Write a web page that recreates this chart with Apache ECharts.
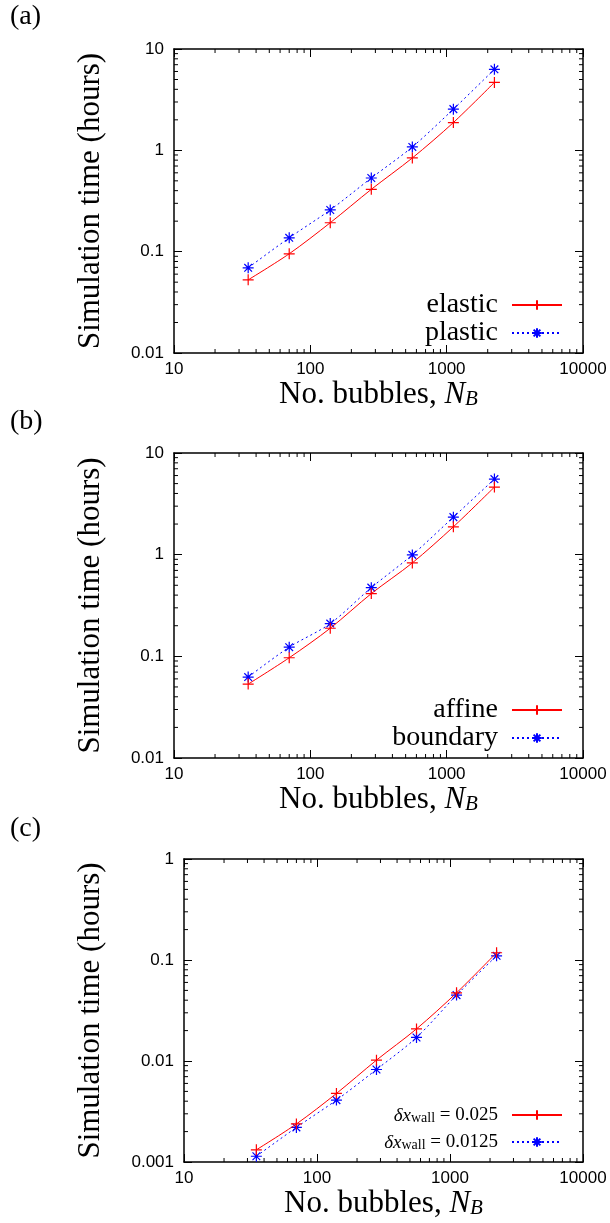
<!DOCTYPE html>
<html>
<head>
<meta charset="utf-8">
<script src="https://cdn.jsdelivr.net/npm/echarts@6/dist/echarts.min.js"></script>
<style>
html,body{margin:0;padding:0;background:#fff;}
#chart{width:610px;height:1223px;}
</style>
</head>
<body>
<div id="chart"></div>
<script>
// ---- data ----
const xN = [35, 70, 140, 280, 560, 1120, 2240];
const elastic = [0.0527, 0.0953, 0.193, 0.412, 0.841, 1.88, 4.68];
const plastic = [0.0693, 0.137, 0.258, 0.533, 1.08, 2.55, 6.30];
const affine = [0.0533, 0.0968, 0.189, 0.414, 0.830, 1.88, 4.62];
const boundary = [0.0625, 0.123, 0.210, 0.474, 0.995, 2.34, 5.54];
const wall025 = [0.00132, 0.00238, 0.00477, 0.0102, 0.0208, 0.0473, 0.118];
const wall0125 = [0.00114, 0.00220, 0.00410, 0.00824, 0.0171, 0.0449, 0.110];

const xTicks = [10, 100, 1000, 10000];
const xTickLabels = ['10', '100', '1000', '10000'];
const yTicksAB = [0.01, 0.1, 1, 10];
const yTickLabelsAB = ['0.01', '0.1', '1', '10'];
const yTicksC = [0.001, 0.01, 0.1, 1];
const yTickLabelsC = ['0.001', '0.01', '0.1', '1'];
const minorMult = [2, 3, 4, 5, 6, 7, 8, 9];
const xDecades = [10, 100, 1000];
const yDecadesAB = [0.01, 0.1, 1];
const yDecadesC = [0.001, 0.01, 0.1];

const panelLabels = ['(a)', '(b)', '(c)'];

// ---- helpers ----
function lookup(ticks, labels) {
  return function (v) {
    for (let i = 0; i < ticks.length; i++) {
      if (Math.abs(Math.log10(v) - Math.log10(ticks[i])) < 1e-6) return labels[i];
    }
    return '';
  };
}
function minors(decades) {
  const out = [];
  decades.forEach(d => minorMult.forEach(m => out.push(+(d * m).toPrecision(6))));
  return out;
}

const SERIF = 'Liberation Serif';
const SANS = 'Liberation Sans';
const plusSym = 'path://M0,5H10M5,0V10';
const starSym = 'path://M0,5H10M5,0V10M1.5,1.5L8.5,8.5M8.5,1.5L1.5,8.5';

const grids = [
  {left: 174, top: 49, width: 409, height: 304},
  {left: 174, top: 453, width: 409, height: 305},
  {left: 184, top: 859, width: 399, height: 303}
];
const yRanges = [[0.01, 10], [0.01, 10], [0.001, 1]];
const yTickSets = [[yTicksAB, yTickLabelsAB], [yTicksAB, yTickLabelsAB], [yTicksC, yTickLabelsC]];
const yDecs = [yDecadesAB, yDecadesAB, yDecadesC];
const seriesData = [[elastic, plastic], [affine, boundary], [wall025, wall0125]];
const seriesNames = [['elastic', 'plastic'], ['affine', 'boundary'], ['w025', 'w0125']];
const legendTops = [291, 696, 1106];
const titleTops = [3, 408, 815];

const xAxes = [], yAxes = [], series = [], legends = [], titles = [];
const tickStyle = {inside: true, length: 8, lineStyle: {color: '#000', width: 1}};
const lineStyleAxis = {lineStyle: {color: '#000', width: 1.5}};

for (let p = 0; p < 3; p++) {
  const xa = {
    type: 'log', logBase: 10, min: 10, max: 10000, gridIndex: p, position: 'bottom',
    axisLine: lineStyleAxis, axisTick: tickStyle, splitLine: {show: false},
    axisLabel: {formatter: lookup(xTicks, xTickLabels), fontFamily: SANS, fontSize: 17, color: '#000', margin: 8},
    name: '{t|No. bubbles, }{i|N}{s|B}', nameLocation: 'middle', nameGap: 22,
    nameTextStyle: {
      rich: {
        t: {fontFamily: SERIF, fontSize: 31, color: '#000', verticalAlign: 'bottom', lineHeight: 34},
        i: {fontFamily: SERIF, fontSize: 31, fontStyle: 'italic', color: '#000', verticalAlign: 'bottom', lineHeight: 34},
        s: {fontFamily: SERIF, fontSize: 21, fontStyle: 'italic', color: '#000', verticalAlign: 'bottom', lineHeight: 26}
      }
    }
  };
  const xb = {
    type: 'log', logBase: 10, min: 10, max: 10000, gridIndex: p, position: 'top',
    axisLine: lineStyleAxis, axisTick: tickStyle, splitLine: {show: false}, axisLabel: {show: false}
  };
  xAxes.push(xa, xb);
  const [ymin, ymax] = yRanges[p];
  const ya = {
    type: 'log', logBase: 10, min: ymin, max: ymax, gridIndex: p, position: 'left',
    axisLine: lineStyleAxis, axisTick: tickStyle, splitLine: {show: false},
    axisLabel: {formatter: lookup(yTickSets[p][0], yTickSets[p][1]), fontFamily: SANS, fontSize: 17, color: '#000', margin: 10},
    name: 'Simulation time (hours)', nameLocation: 'middle', nameGap: p === 2 ? 78 : 68, nameRotate: 90,
    nameTextStyle: {fontFamily: SERIF, fontSize: 31, color: '#000'}
  };
  const yb = {
    type: 'log', logBase: 10, min: ymin, max: ymax, gridIndex: p, position: 'right',
    axisLine: lineStyleAxis, axisTick: tickStyle, splitLine: {show: false}, axisLabel: {show: false}
  };
  yAxes.push(ya, yb);

  const names = seriesNames[p];
  const data = seriesData[p];
  series.push({
    name: names[0], type: 'line', xAxisIndex: 2 * p, yAxisIndex: 2 * p,
    data: xN.map((x, i) => [x, data[0][i]]),
    smooth: 0.3, symbol: plusSym, symbolSize: 11,
    lineStyle: {color: '#ff0000', width: 1},
    itemStyle: {color: '#ff0000', borderColor: '#ff0000', borderWidth: 1.2},
    z: 4
  });
  series.push({
    name: names[1], type: 'line', xAxisIndex: 2 * p, yAxisIndex: 2 * p,
    data: xN.map((x, i) => [x, data[1][i]]),
    smooth: 0.3, symbol: starSym, symbolSize: 11,
    lineStyle: {color: '#0000ff', width: 1, type: [2, 3]},
    itemStyle: {color: '#0000ff', borderColor: '#0000ff', borderWidth: 1.2},
    z: 3
  });
  // minor ticks (x)
  series.push({
    type: 'custom', xAxisIndex: 2 * p, yAxisIndex: 2 * p, silent: true, z: 6,
    data: minors(xDecades).map(v => [v, ymin * 10]),
    renderItem: function (params, api) {
      const cs = params.coordSys;
      const x = api.coord([api.value(0), api.value(1)])[0];
      const st = {stroke: '#000', lineWidth: 1};
      return {type: 'group', children: [
        {type: 'line', shape: {x1: x, y1: cs.y + cs.height, x2: x, y2: cs.y + cs.height - 4}, style: st},
        {type: 'line', shape: {x1: x, y1: cs.y, x2: x, y2: cs.y + 4}, style: st}
      ]};
    }
  });
  // minor ticks (y)
  series.push({
    type: 'custom', xAxisIndex: 2 * p, yAxisIndex: 2 * p, silent: true, z: 6,
    data: minors(yDecs[p]).map(v => [100, v]),
    renderItem: function (params, api) {
      const cs = params.coordSys;
      const y = api.coord([api.value(0), api.value(1)])[1];
      const st = {stroke: '#000', lineWidth: 1};
      return {type: 'group', children: [
        {type: 'line', shape: {x1: cs.x, y1: y, x2: cs.x + 4, y2: y}, style: st},
        {type: 'line', shape: {x1: cs.x + cs.width, y1: y, x2: cs.x + cs.width - 4, y2: y}, style: st}
      ]};
    }
  });

  const isC = p === 2;
  legends.push({
    data: names, orient: 'vertical', align: 'right',
    right: 47, top: legendTops[p], itemWidth: 50, itemHeight: 12, itemGap: isC ? 8 : 0,
    padding: 0, selectedMode: false,
    formatter: function (name) {
      if (name === 'w025') return '{i|δx}{s|wall}{n| = 0.025}';
      if (name === 'w0125') return '{i|δx}{s|wall}{n| = 0.0125}';
      return name;
    },
    textStyle: isC ? {
      color: '#000', padding: [0, 9, 0, 0],
      rich: {
        i: {fontFamily: SERIF, fontSize: 19, fontStyle: 'italic', color: '#000', verticalAlign: 'bottom', lineHeight: 20},
        s: {fontFamily: SERIF, fontSize: 14, color: '#000', verticalAlign: 'bottom', lineHeight: 16},
        n: {fontFamily: SERIF, fontSize: 19, color: '#000', verticalAlign: 'bottom', lineHeight: 20}
      }
    } : {fontFamily: SERIF, fontSize: 28, color: '#000', lineHeight: 27, padding: [0, 9, 0, 0]}
  });
  titles.push({
    text: panelLabels[p], left: 10, top: titleTops[p], padding: 0,
    textStyle: {fontFamily: SERIF, fontSize: 28, fontWeight: 'normal', color: '#000'}
  });
}

const chart = echarts.init(document.getElementById('chart'), null, {renderer: 'canvas'});
chart.setOption({
  animation: false,
  backgroundColor: '#fff',
  title: titles,
  legend: legends,
  grid: grids,
  xAxis: xAxes,
  yAxis: yAxes,
  series: series
});
</script>
</body>
</html>
